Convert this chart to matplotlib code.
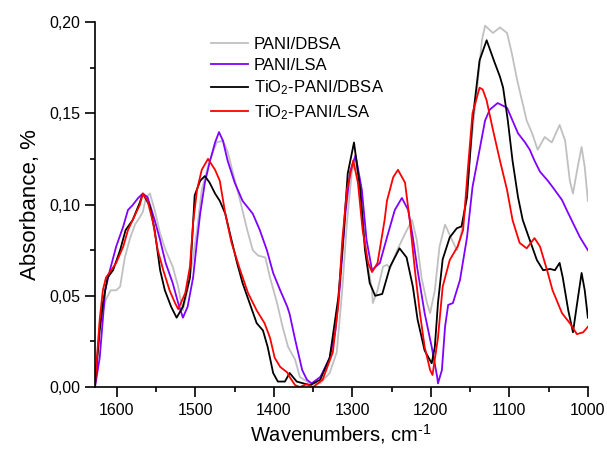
import matplotlib
matplotlib.use("Agg")
import matplotlib.pyplot as plt
from matplotlib.ticker import MultipleLocator, FuncFormatter

plt.rcParams['font.family'] = ['Liberation Sans', 'DejaVu Sans']
plt.rcParams['mathtext.fontset'] = 'custom'
plt.rcParams['mathtext.rm'] = 'Liberation Sans'
plt.rcParams['mathtext.it'] = 'Liberation Sans'

# ---- data (wavenumber, absorbance) ----
pani_dbsa_x = [1628, 1622, 1614, 1608, 1601, 1596, 1590, 1583, 1577, 1571, 1567, 1563, 1558, 1552,
               1545, 1538, 1529, 1522, 1519, 1516, 1510, 1503, 1498, 1492, 1482, 1473, 1465, 1459,
               1452, 1443, 1434, 1427, 1420, 1411, 1405, 1396, 1389, 1382, 1373, 1367, 1354, 1341,
               1329, 1320, 1313, 1307, 1301, 1296, 1288, 1282, 1275, 1274, 1268, 1261, 1256, 1252,
               1243, 1233, 1224, 1218, 1212, 1205, 1201, 1195, 1189, 1182, 1173, 1167, 1163, 1157,
               1150, 1141, 1135, 1131, 1121, 1112, 1103, 1097, 1090, 1084, 1078, 1071, 1064, 1055,
               1046, 1036, 1029, 1023, 1019, 1013, 1008, 1004, 1000]
pani_dbsa_y = [0.000, 0.035, 0.048, 0.053, 0.053, 0.055, 0.071, 0.082, 0.089, 0.093, 0.096, 0.104, 0.106, 0.097,
               0.084, 0.075, 0.066, 0.055, 0.048, 0.042, 0.053, 0.071, 0.086, 0.108, 0.124, 0.134, 0.135, 0.129,
               0.117, 0.102, 0.086, 0.075, 0.072, 0.071, 0.060, 0.046, 0.033, 0.022, 0.015, 0.0055, 0.002, 0.002,
               0.0077, 0.019, 0.053, 0.090, 0.117, 0.125, 0.099, 0.071, 0.053, 0.046, 0.053, 0.066, 0.067, 0.065,
               0.075, 0.084, 0.0915, 0.0805, 0.060, 0.046, 0.0405, 0.053, 0.077, 0.089, 0.0805, 0.075, 0.0805, 0.095,
               0.128, 0.164, 0.190, 0.198, 0.194, 0.197, 0.194, 0.183, 0.168, 0.157, 0.146, 0.139, 0.130, 0.137,
               0.134, 0.1436, 0.135, 0.113, 0.106, 0.1205, 0.1315, 0.1205, 0.102]

pani_lsa_x = [1628, 1622, 1615, 1609, 1601, 1592, 1586, 1580, 1573, 1567, 1561, 1552, 1545, 1538,
              1529, 1522, 1516, 1510, 1503, 1498, 1494, 1488, 1482, 1475, 1470, 1465, 1459, 1450,
              1440, 1427, 1418, 1409, 1401, 1392, 1383, 1380, 1373, 1364, 1358, 1352, 1341, 1338,
              1329, 1322, 1316, 1309, 1303, 1296, 1288, 1282, 1275, 1265, 1256, 1246, 1237, 1229,
              1223, 1217, 1208, 1199, 1192, 1191, 1186, 1182, 1178, 1172, 1163, 1154, 1147, 1138,
              1131, 1125, 1115, 1103, 1096, 1089, 1080, 1074, 1068, 1061, 1051, 1045, 1033, 1027,
              1019, 1010, 1000]
pani_lsa_y = [0.000, 0.016, 0.053, 0.064, 0.077, 0.088, 0.097, 0.0997, 0.1036, 0.106, 0.104, 0.0915, 0.0805, 0.068,
              0.057, 0.046, 0.038, 0.044, 0.060, 0.080, 0.095, 0.112, 0.123, 0.134, 0.1397, 0.135, 0.124, 0.112,
              0.102, 0.095, 0.086, 0.075, 0.0625, 0.053, 0.044, 0.040, 0.026, 0.0093, 0.004, 0.002, 0.0055, 0.008,
              0.016, 0.030, 0.055, 0.095, 0.118, 0.127, 0.108, 0.0805, 0.064, 0.068, 0.082, 0.097, 0.1036, 0.097,
              0.082, 0.064, 0.0405, 0.022, 0.0055, 0.002, 0.0093, 0.033, 0.045, 0.046, 0.0586, 0.082, 0.1096, 0.130,
              0.146, 0.152, 0.1556, 0.153, 0.146, 0.139, 0.134, 0.130, 0.124, 0.118, 0.113, 0.1096, 0.1025, 0.097,
              0.0899, 0.082, 0.075]

tio2_dbsa_x = [1628, 1622, 1618, 1612, 1605, 1596, 1589, 1580, 1571, 1567, 1558, 1552, 1545, 1539,
               1531, 1524, 1516, 1507, 1501, 1494, 1488, 1482, 1475, 1469, 1462, 1456, 1447, 1440,
               1431, 1422, 1414, 1408, 1401, 1395, 1386, 1380, 1371, 1354, 1341, 1329, 1318, 1312,
               1306, 1298, 1290, 1284, 1278, 1271, 1262, 1252, 1240, 1231, 1223, 1217, 1208, 1199,
               1195, 1191, 1185, 1176, 1167, 1161, 1154, 1147, 1138, 1129, 1119, 1112, 1108, 1102,
               1096, 1089, 1083, 1074, 1065, 1057, 1048, 1042, 1036, 1032, 1025, 1019, 1014, 1008,
               1004, 1000]
tio2_dbsa_y = [0.001, 0.031, 0.046, 0.060, 0.064, 0.075, 0.086, 0.0915, 0.101, 0.106, 0.099, 0.086, 0.064, 0.053,
               0.044, 0.038, 0.044, 0.060, 0.105, 0.113, 0.1156, 0.112, 0.106, 0.102, 0.095, 0.084, 0.068, 0.057,
               0.046, 0.035, 0.031, 0.022, 0.0077, 0.003, 0.003, 0.0077, 0.003, 0.001, 0.004, 0.016, 0.049, 0.080,
               0.117, 0.134, 0.108, 0.075, 0.057, 0.050, 0.051, 0.066, 0.076, 0.071, 0.055, 0.037, 0.020, 0.013,
               0.022, 0.046, 0.070, 0.082, 0.087, 0.088, 0.104, 0.146, 0.179, 0.190, 0.178, 0.170, 0.164, 0.146,
               0.124, 0.104, 0.0915, 0.0805, 0.0696, 0.064, 0.0647, 0.064, 0.068, 0.060, 0.042, 0.030, 0.045, 0.0625,
               0.053, 0.038]

tio2_lsa_x = [1628, 1622, 1618, 1614, 1609, 1601, 1592, 1586, 1580, 1571, 1567, 1561, 1554, 1548,
              1541, 1533, 1526, 1522, 1513, 1507, 1503, 1498, 1492, 1484, 1475, 1469, 1462, 1454,
              1443, 1433, 1422, 1412, 1405, 1399, 1392, 1383, 1380, 1373, 1367, 1358, 1350, 1338,
              1325, 1318, 1313, 1307, 1299, 1293, 1287, 1280, 1275, 1268, 1259, 1256, 1248, 1242,
              1233, 1227, 1220, 1214, 1208, 1201, 1198, 1191, 1185, 1176, 1166, 1159, 1153, 1147,
              1138, 1134, 1129, 1121, 1112, 1103, 1096, 1087, 1078, 1068, 1061, 1052, 1045, 1033,
              1023, 1014, 1006, 1000]
tio2_lsa_y = [0.001, 0.037, 0.053, 0.060, 0.063, 0.068, 0.077, 0.086, 0.0915, 0.0997, 0.106, 0.102, 0.090, 0.075,
              0.064, 0.053, 0.046, 0.0427, 0.0515, 0.066, 0.090, 0.108, 0.119, 0.125, 0.119, 0.113, 0.095, 0.079,
              0.064, 0.0515, 0.042, 0.035, 0.027, 0.016, 0.011, 0.008, 0.0055, 0.001, 0.000, 0.0016, 0.000, 0.004,
              0.019, 0.045, 0.080, 0.108, 0.124, 0.112, 0.086, 0.068, 0.063, 0.068, 0.0915, 0.102, 0.115, 0.119,
              0.112, 0.0915, 0.0625, 0.0405, 0.022, 0.0093, 0.0066, 0.027, 0.055, 0.0696, 0.077, 0.086, 0.119, 0.150,
              0.164, 0.163, 0.157, 0.141, 0.124, 0.108, 0.0915, 0.079, 0.076, 0.0816, 0.077, 0.064, 0.053, 0.0405,
              0.035, 0.029, 0.030, 0.033]

labels = ['PANI/DBSA', 'PANI/LSA', r'TiO$_2$-PANI/DBSA', r'TiO$_2$-PANI/LSA']
colors = ['#c0c0c0', '#8000ff', '#000000', '#ff0000']

fig = plt.figure(figsize=(6.07, 4.49), dpi=100)
ax = fig.add_axes([0.1565, 0.138, 0.812, 0.813])

series = [(pani_dbsa_x, pani_dbsa_y), (pani_lsa_x, pani_lsa_y),
          (tio2_dbsa_x, tio2_dbsa_y), (tio2_lsa_x, tio2_lsa_y)]
for (xs, ys), lab, c in zip(series, labels, colors):
    ax.plot(xs, ys, color=c, lw=1.3, label=lab, solid_joinstyle='round')

ax.set_xlim(1628, 1000)
ax.set_ylim(0, 0.20)
ax.xaxis.set_major_locator(MultipleLocator(100))
ax.xaxis.set_minor_locator(MultipleLocator(50))
ax.yaxis.set_major_locator(MultipleLocator(0.05))
ax.yaxis.set_minor_locator(MultipleLocator(0.025))
ax.yaxis.set_major_formatter(FuncFormatter(lambda v, p: f"{v:.2f}".replace('.', ',')))
for s in ['top', 'right']:
    ax.spines[s].set_visible(False)
for s in ['left', 'bottom']:
    ax.spines[s].set_linewidth(1.2)
ax.tick_params(which='major', direction='out', length=7, width=1.2, labelsize=11.5)
ax.tick_params(axis='x', which='major', pad=4.5)
ax.tick_params(which='minor', direction='out', length=3.6, width=1.2)
ax.set_xlabel(r'Wavenumbers, cm$^{\text{-1}}$', fontsize=14.5, labelpad=3)
ax.set_ylabel('Absorbance, %', fontsize=16, labelpad=6)

ax.legend(loc='upper left', bbox_to_anchor=(0.221, 0.978), frameon=False, fontsize=12,
          handlelength=2.25, handletextpad=0.35, labelspacing=0.35, borderaxespad=0)

fig.savefig('out.png', dpi=100)
